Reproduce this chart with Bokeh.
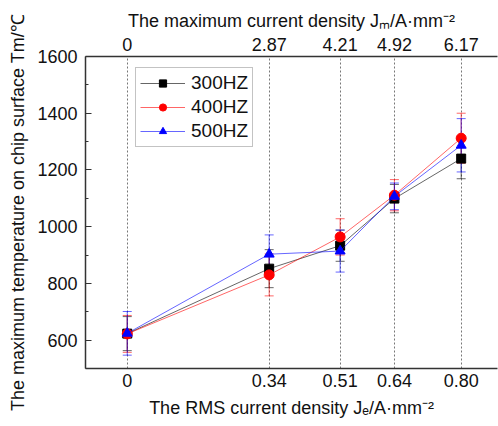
from bokeh.plotting import figure
from bokeh.models import (Range1d, LinearAxis, FixedTicker, ColumnDataSource, Whisker,
                          TeeHead, Legend, LegendItem)
from bokeh.embed import file_html
from bokeh.resources import INLINE

# ---- data ----
je = [0, 0.34, 0.51, 0.64, 0.80]                  # RMS current density (bottom axis)
je_labels = ["0", "0.34", "0.51", "0.64", "0.80"]
jm_labels = ["0", "2.87", "4.21", "4.92", "6.17"]  # max current density (top axis)

t300 = [623, 852, 933, 1099, 1240]
e300 = [60, 67, 55, 50, 71]
t400 = [622, 830, 964, 1111, 1312]
e400 = [65, 74, 64, 55, 88]
t500 = [624, 903, 914, 1107, 1287]
e500 = [77, 68, 74, 47, 94]

series = [
    ("300HZ", t300, e300, "black", "square"),
    ("400HZ", t400, e400, "red", "circle"),
    ("500HZ", t500, e500, "blue", "triangle"),
]

FONT = "Liberation Sans"

p = figure(width=498, height=426, output_backend="svg", toolbar_location=None,
           x_range=Range1d(-0.1, 0.887), y_range=Range1d(500, 1600),
           min_border_left=85, min_border_right=1, min_border_top=56, min_border_bottom=58)
p.outline_line_color = None
p.background_fill_color = "white"
p.border_fill_color = "white"

# vertical dotted grid at ticks
p.xgrid.ticker = FixedTicker(ticks=je)
p.xgrid.grid_line_color = "#777777"
p.xgrid.grid_line_dash = "2 2"
p.xgrid.grid_line_width = 1
p.ygrid.grid_line_color = None

# bottom axis
xa = p.xaxis[0]
xa.ticker = FixedTicker(ticks=je)
xa.major_label_overrides = dict(zip(je, je_labels))
xa.axis_label = "The RMS current density Jₑ/A·mm⁻²"

# left axis
ya = p.yaxis[0]
ya.ticker = FixedTicker(ticks=[600, 800, 1000, 1200, 1400, 1600],
                        minor_ticks=[500, 700, 900, 1100, 1300, 1500])
ya.axis_label = "The maximum temperature on chip surface Tm/℃"

# top axis
ta = LinearAxis(ticker=FixedTicker(ticks=je),
                major_label_overrides=dict(zip(je, jm_labels)),
                axis_label="The maximum current density Jₘ/A·mm⁻²")
p.add_layout(ta, "above")

for ax in (xa, ya, ta):
    ax.axis_line_color = "#333333"
    ax.axis_line_width = 1.5
    ax.major_label_text_font = FONT
    ax.major_label_text_font_size = "18px"
    ax.major_label_text_color = "#111111"
    ax.axis_label_text_font = FONT
    ax.axis_label_text_font_size = "18px"
    ax.axis_label_text_font_style = "normal"
    ax.axis_label_text_color = "#111111"

for ax in (xa, ta):
    ax.major_tick_in = 0
    ax.major_tick_out = 0
    ax.minor_tick_in = 0
    ax.minor_tick_out = 0

xa.major_label_standoff = 5
xa.axis_label_standoff = 8
ta.major_label_standoff = 6
ta.axis_label_standoff = 4

ya.major_tick_in = 6
ya.major_tick_out = 0
ya.minor_tick_in = 3
ya.minor_tick_out = 0
ya.major_tick_line_color = "#333333"
ya.minor_tick_line_color = "#333333"
ya.major_label_standoff = 8
ya.axis_label_standoff = 6

items = []
for name, ys, es, color, marker in series:
    src = ColumnDataSource(dict(x=je, y=ys,
                                upper=[a + b for a, b in zip(ys, es)],
                                lower=[a - b for a, b in zip(ys, es)]))
    w = Whisker(base="x", upper="upper", lower="lower", source=src,
                line_color=color, line_alpha=0.6, line_width=1,
                upper_head=TeeHead(size=9, line_color=color, line_alpha=0.6, line_width=1),
                lower_head=TeeHead(size=9, line_color=color, line_alpha=0.6, line_width=1))
    p.add_layout(w)
    ln = p.line("x", "y", source=src, line_color=color, line_width=1, line_alpha=0.6)
    sz = 9 if marker == "square" else 10
    sc = p.scatter("x", "y", source=src, marker=marker, size=sz,
                   fill_color=color, line_color=color)
    items.append(LegendItem(label=name, renderers=[ln, sc]))

legend = Legend(items=items, location=(50, 221))
legend.label_text_font = FONT
legend.label_text_font_size = "19px"
legend.label_text_color = "#111111"
legend.border_line_color = "#888888"
legend.border_line_width = 1
legend.glyph_width = 45
legend.glyph_height = 18
legend.label_height = 18
legend.spacing = 2
legend.padding = 4
legend.margin = 0
legend.label_standoff = 6
legend.background_fill_alpha = 1
p.add_layout(legend, "center")

open("out.html", "w").write(file_html(p, INLINE))
